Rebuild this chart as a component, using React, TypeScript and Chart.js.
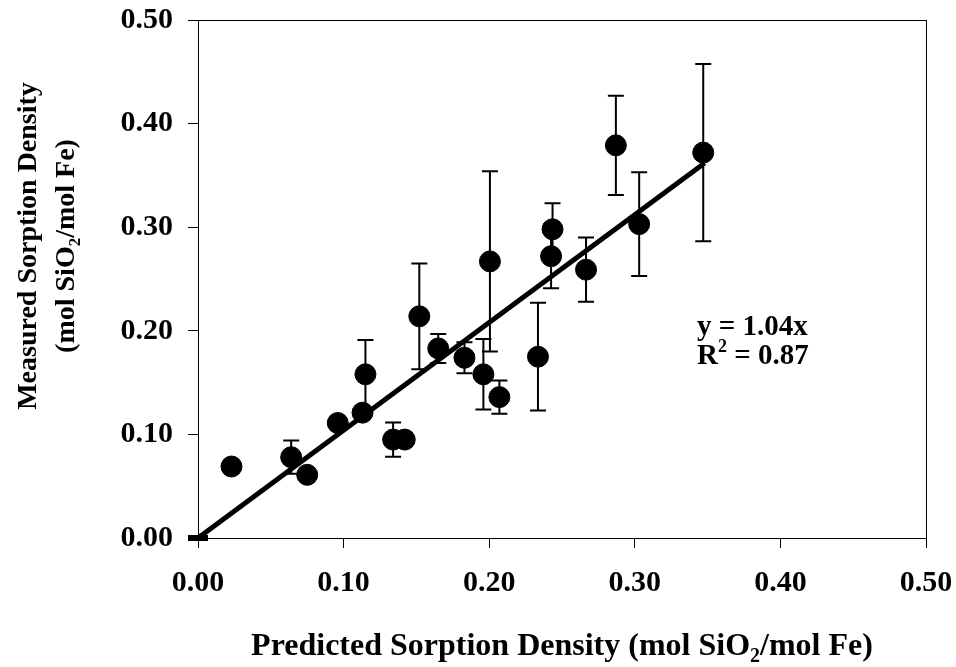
import React, { useEffect, useRef } from "react";
import { Chart, registerables } from "chart.js";

Chart.register(...registerables);

// Predicted (x) vs measured (y) sorption density, mol SiO2 / mol Fe
const predicted = [0.023, 0.064, 0.075, 0.096, 0.113, 0.115, 0.134, 0.142, 0.152, 0.165, 0.183, 0.196, 0.2005, 0.207, 0.2335, 0.2425, 0.2435, 0.2665, 0.287, 0.303, 0.347];
const measured = [0.069, 0.078, 0.061, 0.111, 0.121, 0.158, 0.095, 0.095, 0.214, 0.183, 0.174, 0.158, 0.267, 0.136, 0.175, 0.272, 0.298, 0.259, 0.379, 0.303, 0.372];
const errors = [0, 0.016, 0, 0, 0, 0.033, 0.0165, 0, 0.051, 0.014, 0.015, 0.034, 0.087, 0.016, 0.052, 0.031, 0.025, 0.031, 0.048, 0.05, 0.0855];

const trendX = [0, 0.348];
const trendY = [0, 0.362];
const originX = [0];
const originY = [0];

const yTicks = [0, 0.1, 0.2, 0.3, 0.4, 0.5];
const xTicks = [0, 0.1, 0.2, 0.3, 0.4, 0.5];

const FONT = "'Liberation Serif', 'Times New Roman', serif";

function drawSubText(ctx: CanvasRenderingContext2D, parts: { t: string; sub?: boolean; sup?: boolean }[], x: number, y: number, size: number, align: "left" | "center") {
  const main = `bold ${size}px ${FONT}`;
  const small = `bold ${Math.round(size * 0.62)}px ${FONT}`;
  let total = 0;
  for (const p of parts) {
    ctx.font = p.sub || p.sup ? small : main;
    total += ctx.measureText(p.t).width;
  }
  let cx = align === "center" ? x - total / 2 : x;
  ctx.textAlign = "left";
  ctx.textBaseline = "alphabetic";
  for (const p of parts) {
    ctx.font = p.sub || p.sup ? small : main;
    const dy = p.sub ? size * 0.22 : p.sup ? -size * 0.4 : 0;
    ctx.fillText(p.t, cx, y + dy);
    cx += ctx.measureText(p.t).width;
  }
}

const extrasPlugin = {
  id: "extras",
  afterDatasetsDraw(chart: any) {
    const ctx = chart.ctx as CanvasRenderingContext2D;
    const xs = chart.scales.x;
    const ys = chart.scales.y;
    const area = chart.chartArea;
    ctx.save();
    // frame
    ctx.strokeStyle = "#000";
    ctx.lineWidth = 1;
    ctx.strokeRect(area.left + 0.5, area.top + 0.5, area.right - area.left, area.bottom - area.top);
    // error bars
    ctx.lineWidth = 2;
    for (let i = 0; i < predicted.length; i++) {
      const e = errors[i];
      if (!e) continue;
      const px = xs.getPixelForValue(predicted[i]);
      const top = ys.getPixelForValue(measured[i] + e);
      const bot = ys.getPixelForValue(measured[i] - e);
      ctx.beginPath();
      ctx.moveTo(px, top);
      ctx.lineTo(px, bot);
      ctx.moveTo(px - 8, top);
      ctx.lineTo(px + 8, top);
      ctx.moveTo(px - 8, bot);
      ctx.lineTo(px + 8, bot);
      ctx.stroke();
    }
    ctx.fillStyle = "#000";
    // annotation
    drawSubText(ctx, [{ t: "y = 1.04x" }], 697, 335, 29, "left");
    drawSubText(ctx, [{ t: "R" }, { t: "2", sup: true }, { t: " = 0.87" }], 697, 364, 29, "left");
    // x title
    drawSubText(ctx, [{ t: "Predicted Sorption Density (mol SiO" }, { t: "2", sub: true }, { t: "/mol Fe)" }], 562, 655, 32, "center");
    // y title
    ctx.save();
    ctx.translate(36, 246);
    ctx.rotate(-Math.PI / 2);
    drawSubText(ctx, [{ t: "Measured Sorption Density" }], 0, 0, 28, "center");
    drawSubText(ctx, [{ t: "(mol SiO" }, { t: "2", sub: true }, { t: "/mol Fe)" }], 0, 38, 28, "center");
    ctx.restore();
    ctx.restore();
  },
};

export default function App() {
  const ref = useRef<HTMLCanvasElement>(null);
  useEffect(() => {
    document.body.style.margin = "0";
    const chart = new Chart(ref.current!, {
      type: "scatter",
      data: {
        datasets: [
          {
            type: "line",
            data: trendX.map((x, i) => ({ x, y: trendY[i] })),
            borderColor: "#000",
            borderWidth: 5,
            pointRadius: 0,
            fill: false,
            clip: false,
            order: 2,
          } as any,
          {
            data: predicted.map((x, i) => ({ x, y: measured[i] })),
            backgroundColor: "#000",
            borderColor: "#000",
            pointRadius: 10.5,
            borderWidth: 1,
            clip: false,
            order: 1,
          } as any,
          {
            data: originX.map((x, i) => ({ x, y: originY[i] })),
            pointStyle: "line",
            pointRadius: 10,
            borderWidth: 6,
            borderColor: "#000",
            backgroundColor: "#000",
            clip: false,
            order: 0,
          } as any,
        ],
      },
      options: {
        animation: false,
        responsive: false,
        layout: { padding: { left: 0, right: 30, top: 20, bottom: 0 } },
        plugins: { legend: { display: false }, tooltip: { enabled: false } },
        scales: {
          x: {
            type: "linear",
            min: 0,
            max: 0.5,
            afterBuildTicks: (s: any) => { s.ticks = xTicks.map((v) => ({ value: v })); },
            afterFit: (s: any) => { s.height = 129; s.paddingLeft = 0; s.paddingRight = 0; },
            ticks: {
              color: "#000",
              font: { family: FONT, size: 30, weight: "bold" },
              padding: 17,
              maxRotation: 0,
              callback: (v: any) => Number(v).toFixed(2),
            },
            grid: { display: true, drawOnChartArea: false, drawTicks: true, tickLength: 10, color: "#000", lineWidth: 1 },
            border: { color: "#000", width: 1 },
          },
          y: {
            type: "linear",
            min: 0,
            max: 0.5,
            afterBuildTicks: (s: any) => { s.ticks = yTicks.map((v) => ({ value: v })); },
            afterFit: (s: any) => { s.width = 198; s.paddingTop = 0; s.paddingBottom = 0; },
            ticks: {
              color: "#000",
              font: { family: FONT, size: 30, weight: "bold" },
              padding: 15,
              callback: (v: any) => Number(v).toFixed(2),
            },
            grid: { display: true, drawOnChartArea: false, drawTicks: true, tickLength: 10, color: "#000", lineWidth: 1 },
            border: { color: "#000", width: 1 },
          },
        },
      },
      plugins: [extrasPlugin],
    });
    return () => chart.destroy();
  }, []);
  return (
    <div style={{ position: "absolute", left: 0, top: 0, width: 956, height: 667, background: "#fff" }}>
      <canvas ref={ref} width={956} height={667} style={{ width: 956, height: 667 }} />
    </div>
  );
}
